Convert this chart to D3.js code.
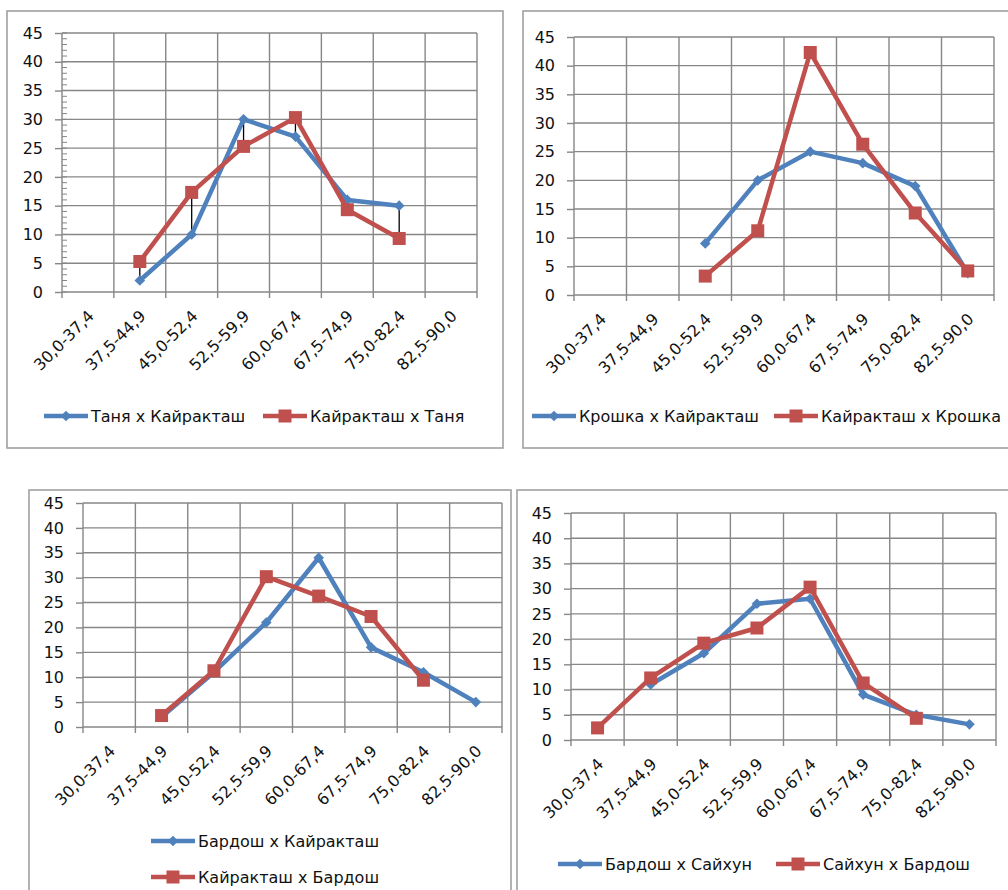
<!DOCTYPE html>
<html lang="ru">
<head>
<meta charset="UTF-8">
<title>Распределение по классам</title>
<script src="https://d3js.org/d3.v7.min.js"></script>
<style>
  body { margin: 0; background: #fff; }
  svg { display: block; font-family: "DejaVu Sans", sans-serif; }
  .grid line { stroke: #878787; stroke-width: 1.4; }
  .frame { fill: #fff; stroke: #a0a0a0; stroke-width: 1.6; }
  .axis text { font-size: 16px; fill: #111; font-family: "DejaVu Sans", sans-serif; }
  .axis path, .axis line { stroke: #878787; stroke-width: 1.4; }
</style>
</head>
<body>
<svg width="1008" height="890"></svg>
<script>
// weight classes, shared by all four charts
const categories = ["30,0-37,4", "37,5-44,9", "45,0-52,4", "52,5-59,9",
                    "60,0-67,4", "67,5-74,9", "75,0-82,4", "82,5-90,0"];
const yTicks = [0, 5, 10, 15, 20, 25, 30, 35, 40, 45];

// chart 1
const tanyaKair   = [null, 2, 10, 30, 27, 16, 15, null];
const kairTanya   = [null, 5.3, 17.3, 25.3, 30.3, 14.3, 9.3, null];
// chart 2
const kroshkaKair = [null, null, 9, 20, 25, 23, 19, 3.8];
const kairKroshka = [null, null, 3.3, 11.2, 42.3, 26.3, 14.3, 4.2];
// chart 3
const bardoshKair = [null, 2, 11, 21, 34, 16, 11, 5];
const kairBardosh = [null, 2.3, 11.3, 30.2, 26.3, 22.2, 9.4, null];
// chart 4
const bardoshSaih = [null, 11, 17.2, 27, 28, 9, 5, 3.1];
const saihBardosh = [2.4, 12.3, 19.2, 22.2, 30.3, 11.3, 4.3, null];

const BLUE = "#4f81bd", RED = "#c0504d";

const svg = d3.select("svg");

const panels = [
  { frame: [7, 11, 496, 437], plot: [62, 33, 477, 292], minor: true, hilo: true,
    series: [["Таня х Кайракташ", tanyaKair], ["Кайракташ х Таня", kairTanya]],
    legend: [[44, 416], [263, 416]] },
  { frame: [523, 11, 500, 437], plot: [574, 37, 994, 295],
    series: [["Крошка х Кайракташ", kroshkaKair], ["Кайракташ х Крошка", kairKroshka]],
    legend: [[532, 416], [774, 416]] },
  { frame: [29, 490, 482, 420], plot: [83, 503, 502, 727],
    series: [["Бардош х Кайракташ", bardoshKair], ["Кайракташ х Бардош", kairBardosh]],
    legend: [[151, 841], [151, 877]] },
  { frame: [517, 490, 500, 420], plot: [571, 513, 996, 740],
    series: [["Бардош х Сайхун", bardoshSaih], ["Сайхун х Бардош", saihBardosh]],
    legend: [[558, 864], [776, 864]] }
];

function marker(g, kind, color) {
  if (kind === 0) {
    g.append("path").attr("d", d3.symbol(d3.symbolDiamond2, 72)())
      .attr("fill", color);
  } else {
    g.append("rect").attr("x", -6.5).attr("y", -6.5)
      .attr("width", 13).attr("height", 13).attr("fill", color);
  }
}

function drawPanel(p) {
  const [fx, fy, fw, fh] = p.frame;
  svg.append("rect").attr("class", "frame")
    .attr("x", fx).attr("y", fy).attr("width", fw).attr("height", fh);

  const [x0, y0, x1, y1] = p.plot;
  const x = d3.scaleBand().domain(categories).range([x0, x1]);
  const y = d3.scaleLinear().domain([0, 45]).range([y1, y0]);
  const cx = c => x(c) + x.bandwidth() / 2;

  const g = svg.append("g");

  // gridlines
  const grid = g.append("g").attr("class", "grid");
  grid.selectAll(".h").data(yTicks).join("line")
    .attr("x1", x0).attr("x2", x1)
    .attr("y1", d => y(d)).attr("y2", d => y(d));
  const bounds = categories.map(c => x(c)).concat([x1]);
  grid.selectAll(".v").data(bounds).join("line")
    .attr("x1", d => d).attr("x2", d => d)
    .attr("y1", y0).attr("y2", y1 + 6);

  // minor ticks on the value axis
  if (p.minor) {
    grid.selectAll(".m").data(d3.range(0, 46)).join("line")
      .attr("x1", x0).attr("x2", x0 + 5)
      .attr("y1", d => y(d)).attr("y2", d => y(d))
      .style("stroke-width", 1);
  }

  // y axis
  g.append("g").attr("class", "axis")
    .attr("transform", `translate(${x0},0)`)
    .call(d3.axisLeft(y).tickValues(yTicks).tickSize(7).tickPadding(12).tickSizeOuter(0))
    .call(a => a.select(".domain").remove());

  // x labels, rotated
  g.append("g").attr("class", "axis")
    .selectAll("text").data(categories).join("text")
    .attr("transform", d => `translate(${cx(d) + 7},${y1 + 25}) rotate(-45)`)
    .attr("text-anchor", "end")
    .text(d => d);

  // high-low lines between the two series
  if (p.hilo) {
    const a = p.series[0][1], b = p.series[1][1];
    const idx = d3.range(categories.length).filter(i => a[i] != null && b[i] != null);
    g.append("g").selectAll("line").data(idx).join("line")
      .attr("x1", i => cx(categories[i])).attr("x2", i => cx(categories[i]))
      .attr("y1", i => y(a[i])).attr("y2", i => y(b[i]))
      .attr("stroke", "#000").attr("stroke-width", 1.3);
  }

  // series
  p.series.forEach(([name, vals], k) => {
    const color = k === 0 ? BLUE : RED;
    const pts = vals.map((v, i) => ({ c: categories[i], v }));
    const line = d3.line()
      .defined(d => d.v != null)
      .x(d => cx(d.c))
      .y(d => y(d.v));
    g.append("path").datum(pts)
      .attr("d", line).attr("fill", "none")
      .attr("stroke", color).attr("stroke-width", 4.5)
      .attr("stroke-linejoin", "round");
    g.append("g").selectAll("g").data(pts.filter(d => d.v != null)).join("g")
      .attr("transform", d => `translate(${cx(d.c)},${y(d.v)})`)
      .each(function () { marker(d3.select(this), k, color); });

    // legend entry
    const [lx, ly] = p.legend[k];
    const lg = svg.append("g").attr("transform", `translate(${lx},${ly})`);
    lg.append("line").attr("x1", 0).attr("x2", 44)
      .attr("stroke", color).attr("stroke-width", 4.5);
    marker(lg.append("g").attr("transform", "translate(22,0)"), k, color);
    lg.append("text").attr("x", 47).attr("dy", "0.35em")
      .attr("font-size", 16).attr("fill", "#111").text(name);
  });
}

panels.forEach(drawPanel);
</script>
</body>
</html>
